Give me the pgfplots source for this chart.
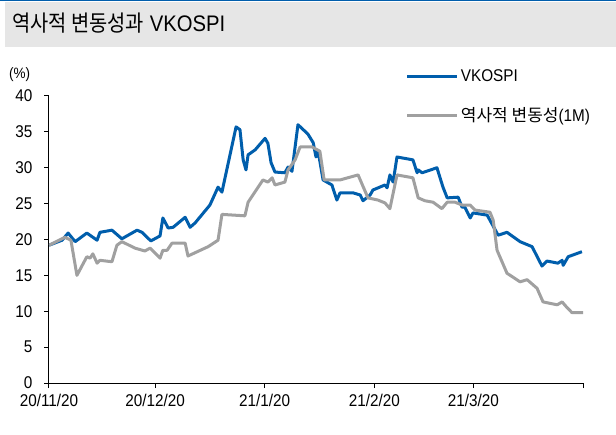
\documentclass[border=0pt]{standalone}
\usepackage{fontspec}
\setmainfont{Liberation Sans}[FakeStretch=0.9]
\newfontfamily\kr{Noto Sans CJK KR}[FakeStretch=0.88]
\newfontfamily\krw{Noto Sans CJK KR}
\usepackage{pgfplots}
\pgfplotsset{compat=1.18}

\definecolor{vkblue}{RGB}{0,94,172}
\definecolor{hvgrey}{RGB}{160,160,160}
\definecolor{bandgrey}{RGB}{230,230,230}

% x = days since 2020-11-20
\pgfplotstableread{
x y
0 19.2
3.7 19.9
5.4 20.9
7.4 19.7
10.7 20.9
13.6 19.9
14.4 21.0
17.8 21.3
20.6 20.1
24.9 21.3
26.3 21.0
28.8 19.8
31.4 20.5
32.2 23.0
33.7 21.6
35.1 21.7
38.5 23.1
39.9 21.7
41.3 22.3
45.5 24.8
47.8 27.3
48.9 26.6
52.9 35.7
54.0 35.3
54.9 31.1
55.7 29.7
56.3 31.8
58.3 32.5
61.1 34.1
61.9 33.4
62.8 30.7
63.9 29.4
66.7 29.3
67.6 30.1
68.7 29.5
70.4 36.0
73.2 34.7
74.7 33.5
75.5 31.5
76.1 32.3
77.5 28.3
80.0 27.6
81.4 25.5
82.3 26.5
86.0 26.5
88.0 26.2
88.8 25.4
90.8 26.2
91.6 26.9
95.0 27.6
95.6 27.2
96.4 29.0
97.3 28.0
98.4 31.5
102.9 31.1
104.1 29.3
104.4 29.7
105.5 29.3
109.7 30.0
111.4 27.3
112.6 25.8
115.7 25.9
116.8 24.5
117.6 24.5
119.1 23.0
119.9 23.7
123.9 23.4
127.0 20.6
129.5 21.0
133.2 19.7
136.6 19.0
139.4 16.3
140.8 17.0
143.9 16.7
145.1 17.1
145.4 16.4
146.8 17.6
150.7 18.3
}\vkospi

\pgfplotstableread{
x y
0 19.2
4.5 20.3
6.2 19.9
7.9 15.0
10.7 17.6
11.6 17.4
12.4 18.0
13.6 16.7
14.4 17.1
17.8 16.9
19.2 19.2
20.6 19.7
24.3 18.8
27.1 18.4
28.6 18.8
31.4 17.4
32.2 18.5
33.4 18.5
34.8 19.5
38.5 19.5
39.3 17.7
45.0 19.0
47.8 19.9
48.9 23.5
55.4 23.3
56.3 25.2
60.5 28.3
61.9 28.0
63.1 28.6
63.9 27.6
66.7 28.0
67.6 29.7
69.6 31.1
71.0 32.9
74.4 32.9
76.6 32.3
77.8 28.3
82.3 28.3
87.4 29.0
90.2 25.8
93.0 25.5
95.0 25.1
96.4 24.3
98.4 29.0
102.9 28.6
104.4 25.8
106.3 25.4
108.6 25.2
111.1 24.3
112.6 25.2
114.8 25.2
116.8 24.8
119.1 24.8
120.5 24.1
124.7 23.8
125.6 22.7
126.7 18.5
129.5 15.3
133.2 14.1
135.2 14.4
138.0 13.2
139.7 11.3
143.7 10.9
145.1 11.3
146.5 10.5
147.9 9.8
151 9.8
}\histvol

\begin{document}
\begin{tikzpicture}
\path[use as bounding box] (0pt,0pt) rectangle (616pt,434pt);
% title band
\fill[bandgrey] (5pt,387pt) rectangle (616pt,432pt);
\fill[vkblue] (0pt,432.5pt) rectangle (616pt,434pt);
\node[anchor=west, inner sep=0pt, font=\fontsize{22.5}{26}\selectfont] at (12pt,411pt) {{\kr 역사적 변동성과} VKOSPI};
\node[anchor=west, inner sep=0pt, font=\fontsize{15}{18}\selectfont] at (9pt,359pt) {(\%)};

\begin{axis}[
  at={(49pt,51pt)}, anchor=south west,
  scale only axis, width=534pt, height=287pt,
  xmin=0, xmax=151, ymin=0, ymax=40,
  axis x line*=bottom, axis y line*=left,
  axis line style={-, line width=1pt, black},
  xtick={0,30,61,92,120,151},
  xticklabels={20/11/20,20/12/20,21/1/20,21/2/20,21/3/20,},
  ytick={0,5,...,40},
  tick align=outside, major tick length=5pt,
  tick style={black, line width=1pt},
  /pgf/number format/assume math mode=true,
  tick label style={font=\fontsize{17}{20}\selectfont},
  yticklabel style={xshift=-8pt},
  xticklabel style={yshift=-3pt},
  legend style={draw=none, fill=none, at={(0.668,1.10)}, anchor=north west,
    font=\fontsize{17}{20}\selectfont, row sep=21pt, inner sep=0pt},
  legend cell align=left,
  legend image code/.code={\draw[#1] (0pt,0pt) -- (50pt,0pt);},
]
\addplot[vkblue, line width=3pt, line join=round] table {\vkospi};
\addlegendentry{VKOSPI}
\addplot[hvgrey, line width=3pt, line join=round] table {\histvol};
\addlegendentry{{\krw 역사적 변동성}(1M)}
\end{axis}
\end{tikzpicture}
\end{document}
